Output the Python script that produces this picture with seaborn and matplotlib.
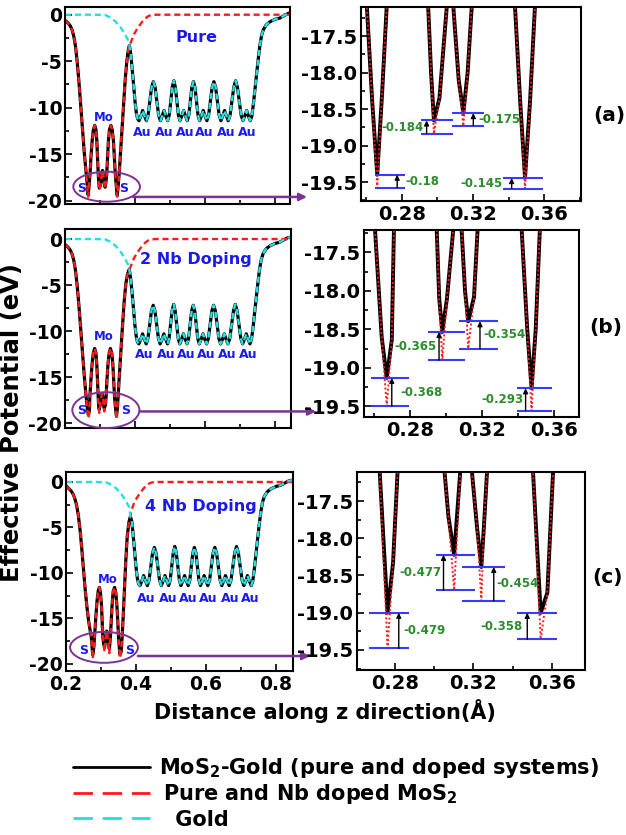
import matplotlib
matplotlib.use("Agg")
import matplotlib.pyplot as plt
import matplotlib.transforms as mtransforms
from matplotlib.patches import Ellipse
from matplotlib.lines import Line2D
from matplotlib.ticker import MultipleLocator, FormatStrFormatter
import pandas as pd
import seaborn as sns

sns.set_theme(style="ticks")
plt.rcParams["font.family"] = ["DejaVu Sans"]
plt.rcParams["font.weight"] = "bold"
plt.rcParams["mathtext.default"] = "bf"
plt.rcParams["axes.unicode_minus"] = False
for key in ["axes.edgecolor", "text.color", "axes.labelcolor", "xtick.color", "ytick.color"]:
    plt.rcParams[key] = "black"

# ---------------- data: effective potential along z ----------------
panel_names = ["Pure", "2 Nb Doping", "4 Nb Doping"]
panel_tags = ["(a)", "(b)", "(c)"]

# MoS2 region (S-Mo-S), one grid per system
mos2_z = [
    [0.200, 0.205, 0.210, 0.215, 0.220, 0.225, 0.230, 0.235, 0.240, 0.245, 0.250, 0.255,
     0.2605, 0.2635, 0.2663, 0.2690, 0.2716, 0.2740, 0.2775, 0.2810, 0.2850, 0.2885, 0.2910,
     0.2930, 0.2949, 0.2965, 0.2981, 0.3012, 0.3053, 0.3072, 0.3090, 0.3120, 0.3146, 0.3170,
     0.3193, 0.3215, 0.3240, 0.3270, 0.3310, 0.3350, 0.3385, 0.3410, 0.3436, 0.3465, 0.3492,
     0.3520, 0.3548, 0.3580, 0.3620, 0.3670, 0.3720, 0.3770, 0.3810, 0.3840],
    [0.200, 0.205, 0.210, 0.215, 0.220, 0.225, 0.230, 0.235, 0.240, 0.245, 0.250, 0.255,
     0.2606, 0.2643, 0.2671, 0.2699, 0.2711, 0.2740, 0.2775, 0.2810, 0.2850, 0.2885, 0.2910,
     0.2930, 0.2948, 0.2962, 0.2979, 0.3005, 0.3040, 0.3062, 0.3086, 0.3105, 0.3123, 0.3155,
     0.3175, 0.3200, 0.3230, 0.3265, 0.3300, 0.3340, 0.3370, 0.3395, 0.3419, 0.3450, 0.3474,
     0.3497, 0.3520, 0.3550, 0.3590, 0.3640, 0.3690, 0.3740, 0.3790, 0.3840],
    [0.200, 0.205, 0.210, 0.215, 0.220, 0.225, 0.230, 0.235, 0.240, 0.245, 0.250, 0.255,
     0.260, 0.265, 0.2724, 0.2764, 0.2792, 0.2815, 0.2850, 0.2890, 0.2925, 0.2955, 0.2985,
     0.3015, 0.3035, 0.3053, 0.3073, 0.3102, 0.3133, 0.3165, 0.3192, 0.3218, 0.3240, 0.3252,
     0.3269, 0.3295, 0.3320, 0.3350, 0.3390, 0.3425, 0.3455, 0.3480, 0.3502, 0.3541, 0.3575,
     0.3604, 0.3635, 0.3670, 0.3710, 0.3750, 0.3800, 0.3840],
]
# MoS2-Gold total potential in the MoS2 region
total_v = [
    [-0.6, -0.75, -0.95, -1.2, -1.6, -2.3, -3.4, -5.1, -7.3, -9.8, -12.4, -14.8,
     -17.1, -18.4, -19.40, -18.3, -17.1, -15.4, -13.6, -12.4, -11.9, -12.4, -13.6,
     -15.4, -17.1, -18.0, -18.656, -18.35, -17.1, -16.75, -17.1, -18.1, -18.555, -18.0,
     -17.1, -15.4, -13.6, -12.4, -11.9, -12.4, -13.6, -15.4, -17.1, -18.4, -19.445,
     -18.4, -17.1, -15.2, -12.8, -9.8, -7.0, -4.9, -3.8, -3.3],
    [-0.6, -0.75, -0.95, -1.2, -1.6, -2.3, -3.4, -5.1, -7.3, -9.8, -12.4, -14.8,
     -17.2, -18.6, -19.132, -18.64, -17.2, -15.4, -13.6, -12.4, -11.9, -12.4, -13.6,
     -15.4, -17.2, -18.1, -18.535, -18.1, -17.2, -16.8, -17.2, -18.0, -18.396, -18.08,
     -17.2, -15.4, -13.6, -12.4, -11.9, -12.4, -13.6, -15.4, -17.2, -18.5, -19.267,
     -18.5, -17.2, -15.2, -12.8, -9.8, -7.0, -4.9, -3.8, -3.3],
    [-0.4, -0.6, -0.8, -1.0, -1.3, -1.8, -2.5, -3.6, -5.2, -7.3, -9.6, -11.9,
     -13.8, -15.4, -17.1, -19.001, -18.33, -17.1, -15.0, -13.0, -11.9, -11.6, -12.2,
     -13.6, -15.3, -17.1, -17.71, -18.223, -17.1, -16.4, -17.1, -17.85, -18.386, -17.89,
     -17.1, -15.3, -13.4, -12.0, -11.6, -12.2, -13.6, -15.3, -17.1, -19.002, -18.73,
     -17.1, -14.8, -11.8, -8.6, -6.0, -4.4, -3.8],
]
# isolated (pure / Nb doped) MoS2 potential in the MoS2 region
mos2_v = [
    [-0.6, -0.75, -0.95, -1.2, -1.6, -2.3, -3.4, -5.1, -7.3, -9.8, -12.4, -14.8,
     -17.1, -18.4, -19.58, -18.3, -17.1, -15.4, -13.6, -12.4, -11.9, -12.4, -13.6,
     -15.4, -17.1, -18.0, -18.84, -18.35, -17.1, -16.75, -17.1, -18.1, -18.73, -18.0,
     -17.1, -15.4, -13.6, -12.4, -11.9, -12.4, -13.6, -15.4, -17.1, -18.4, -19.59,
     -18.4, -17.1, -15.2, -12.8, -9.8, -7.0, -4.9, -3.8, -3.3],
    [-0.6, -0.75, -0.95, -1.2, -1.6, -2.3, -3.4, -5.1, -7.3, -9.8, -12.4, -14.8,
     -17.2, -18.6, -19.50, -18.64, -17.2, -15.4, -13.6, -12.4, -11.9, -12.4, -13.6,
     -15.4, -17.2, -18.1, -18.90, -18.1, -17.2, -16.8, -17.2, -18.0, -18.75, -18.08,
     -17.2, -15.4, -13.6, -12.4, -11.9, -12.4, -13.6, -15.4, -17.2, -18.5, -19.56,
     -18.5, -17.2, -15.2, -12.8, -9.8, -7.0, -4.9, -3.8, -3.3],
    [-0.4, -0.6, -0.8, -1.0, -1.3, -1.8, -2.5, -3.6, -5.2, -7.3, -9.6, -11.9,
     -13.8, -15.4, -17.1, -19.48, -18.33, -17.1, -15.0, -13.0, -11.9, -11.6, -12.2,
     -13.6, -15.3, -17.1, -17.71, -18.70, -17.1, -16.4, -17.1, -17.85, -18.84, -17.89,
     -17.1, -15.3, -13.4, -12.0, -11.6, -12.2, -13.6, -15.3, -17.1, -19.36, -18.73,
     -17.1, -14.8, -11.8, -8.6, -6.0, -4.4, -3.8],
]

# gold slab region (six Au layers), common to all systems
au_z = [0.388, 0.392, 0.396, 0.400, 0.404, 0.4075, 0.4115, 0.41675, 0.422, 0.42725, 0.4325,
        0.4375, 0.4425, 0.4475, 0.4525, 0.4575, 0.4625, 0.4675, 0.4725, 0.47775, 0.483,
        0.48825, 0.4935, 0.4979, 0.5023, 0.5066, 0.511, 0.5154, 0.5198, 0.5241, 0.5285,
        0.53375, 0.539, 0.54425, 0.5495, 0.5539, 0.5583, 0.5626, 0.567, 0.5714, 0.5758,
        0.5801, 0.5845, 0.58975, 0.595, 0.60025, 0.6055, 0.6105, 0.6155, 0.6205, 0.6255,
        0.6305, 0.6355, 0.6405, 0.6455, 0.65075, 0.656, 0.66125, 0.6665, 0.6718, 0.677,
        0.6823, 0.6875, 0.6928, 0.698, 0.7033, 0.7085, 0.71375, 0.719, 0.72425, 0.7295,
        0.734, 0.739, 0.744, 0.748, 0.752, 0.757, 0.762, 0.767, 0.775, 0.786, 0.800,
        0.814, 0.826, 0.838, 0.849]
au_v = [-4.3, -5.8, -7.6, -9.3, -10.6, -11.2, -11.4, -10.9, -10.3, -10.9, -11.4,
        -10.8, -9.3, -7.8, -7.2, -7.8, -9.3, -10.8, -11.4, -10.9, -10.3,
        -10.9, -11.4, -10.8, -9.3, -7.8, -7.1, -7.8, -9.3, -10.8, -11.4,
        -10.9, -10.3, -10.9, -11.4, -10.8, -9.3, -7.8, -7.2, -7.8, -9.3,
        -10.8, -11.4, -10.9, -10.3, -10.9, -11.4, -10.8, -9.3, -7.8, -7.2,
        -7.8, -9.3, -10.8, -11.4, -10.9, -10.3, -10.9, -11.4, -10.8, -9.3,
        -7.8, -7.1, -7.8, -9.3, -10.8, -11.4, -10.9, -10.3, -10.9, -11.4,
        -10.9, -9.4, -7.6, -6.2, -4.85, -3.3, -2.2, -1.6, -1.1, -0.75, -0.5,
        -0.35, -0.1, 0.15, 0.2]

# isolated MoS2 potential beyond the junction
mos2_tail_z = [0.388, 0.393, 0.398, 0.405, 0.412, 0.420, 0.428, 0.436, 0.445, 0.460, 0.849]
mos2_tail_v = [-3.0, -2.5, -2.05, -1.6, -1.2, -0.8, -0.45, -0.2, -0.05, 0.0, 0.0]

# isolated gold potential before the junction
gold_head_z = [0.200, 0.280, 0.314, 0.330, 0.345, 0.357, 0.370, 0.381]
gold_head_v = [0.0, 0.0, -0.02, -0.3, -0.75, -1.26, -2.0, -2.8]

# band offsets between MoS2-Gold and isolated MoS2 at the four S/Mo minima
offset_labels = [[-0.18, -0.184, -0.175, -0.145],
                 [-0.368, -0.365, -0.354, -0.293],
                 [-0.479, -0.477, -0.454, -0.358]]
isolated_min = [[-19.58, -18.84, -18.73, -19.59],
                [-19.50, -18.90, -18.75, -19.56],
                [-19.48, -18.70, -18.84, -19.36]]
level_spans = [[(0.2650, 0.2819), (0.2907, 0.3090), (0.3081, 0.3264), (0.3370, 0.3595)],
               [(0.2584, 0.2794), (0.2898, 0.3105), (0.3073, 0.3289), (0.3391, 0.3585)],
               [(0.2670, 0.2873), (0.3009, 0.3209), (0.3141, 0.3359), (0.3422, 0.3623)]]
shift_arrow_z = [[0.2775, 0.2940, 0.3202, 0.3417],
                 [0.2699, 0.2961, 0.3188, 0.3441],
                 [0.2821, 0.3048, 0.3303, 0.3473]]
offset_text_z = [[0.2822, 0.2921, 0.3230, 0.3368],
                 [0.2748, 0.2946, 0.3206, 0.3428],
                 [0.2844, 0.3039, 0.3314, 0.3450]]
offset_text_ha = ["left", "right", "left", "right"]

# atom labels in the overview panels
title_pos = [(0.576, -2.4), (0.576, -2.2), (0.585, -2.75)]
mo_pos = [(0.311, -11.1), (0.311, -10.6), (0.3186, -10.7)]
s_pos = [((0.2476, 0.3686), -18.67), ((0.2469, 0.3734), -18.63), ((0.2514, 0.3829), -18.5)]
au_label_z = [[0.4209, 0.4829, 0.5429, 0.598, 0.6619, 0.7209],
              [0.4277, 0.4899, 0.5471, 0.6042, 0.6657, 0.7237],
              [0.4305, 0.4923, 0.5494, 0.6066, 0.6686, 0.7257]]
au_label_v = [-12.67, -12.58, -12.8]

# highlighted S-Mo-S region and zoom arrow
ellipse_center = [(0.319, -18.5), (0.317, -18.6), (0.3086, -18.2)]
ellipse_size = [(0.1905, 3.23), (0.192, 3.9), (0.194, 3.4)]
zoom_start = [(0.395, -19.6), (0.4134, -18.74), (0.4057, -19.15)]
zoom_end_px = [307, 316, 310]

# legend entries
legend_labels = ["MoS$_2$-Gold (pure and doped systems)",
                 "Pure and Nb doped MoS$_2$",
                 " Gold"]

# ---------------- layout (pixel boxes: x0, y0, x1, y1) ----------------
W, H = 626, 835
left_boxes = [(65, 7, 290, 204), (65, 229, 291, 428), (66, 472, 293, 671)]
right_boxes = [(361, 7, 581, 201), (364, 230, 579, 417), (357, 472, 585, 670)]
left_ylim = [(-20.36, 0.83), (-20.54, 1.09), (-20.8, 1.1)]
left_xlim = [(0.2, 0.843), (0.2, 0.847), (0.2, 0.849)]
right_xlim = [(0.2572, 0.3806), (0.2545, 0.3737), (0.2609, 0.3766)]
right_ylim = [(-19.76, -17.10), (-19.64, -17.21), (-19.77, -17.11)]
tag_px = [(609, 115), (606, 328), (607, 578)]
legend_rows_px = [767, 793, 818]
legend_text_x_px = [159, 163, 168]

BLACK, RED, CYAN = "black", "#ff1a1a", "#22e0e0"
TXT_BLUE, GREEN, PURPLE, LEVEL_BLUE = "#1a1aee", "#2a8c2a", "#7b3294", "#3a3aff"

fig = plt.figure(figsize=(W / 100, H / 100), dpi=100)


def add_axes_px(box):
    x0, y0, x1, y1 = box
    return fig.add_axes([x0 / W, 1 - y1 / H, (x1 - x0) / W, (y1 - y0) / H])


def style_axes(ax, size=14, ypad=3):
    for sp in ax.spines.values():
        sp.set_linewidth(1.5)
        sp.set_color("black")
    ax.tick_params(which="both", direction="in", top=False, right=False,
                   labelsize=size, width=1.2, pad=3, colors="black")
    ax.tick_params(axis="y", pad=ypad)
    ax.tick_params(which="major", length=5)
    ax.tick_params(which="minor", length=3)
    ax.set_xlabel("")
    ax.set_ylabel("")


def line(ax, z, v, **kw):
    df = pd.DataFrame({"z": z, "V": v})
    sns.lineplot(data=df, x="z", y="V", ax=ax, sort=False, estimator=None, **kw)


dash = (0, (2.6, 1.6))
for i in range(3):
    tot_z = mos2_z[i] + au_z
    tot_v = total_v[i] + au_v
    iso_z = mos2_z[i] + mos2_tail_z
    iso_v = mos2_v[i] + mos2_tail_v
    gold_z = gold_head_z + [mos2_z[i][-1]] + au_z
    gold_v = gold_head_v + [total_v[i][-1]] + au_v

    # ---- overview panel ----
    axL = add_axes_px(left_boxes[i])
    line(axL, tot_z, tot_v, color=BLACK, lw=2.3)
    line(axL, iso_z, iso_v, color=RED, lw=1.7, linestyle=dash)
    line(axL, gold_z, gold_v, color=CYAN, lw=1.7, linestyle=dash)
    axL.set_xlim(*left_xlim[i])
    axL.set_ylim(*left_ylim[i])
    axL.xaxis.set_major_locator(MultipleLocator(0.2))
    axL.xaxis.set_minor_locator(MultipleLocator(0.1))
    axL.yaxis.set_major_locator(MultipleLocator(5))
    axL.yaxis.set_minor_locator(MultipleLocator(2.5))
    axL.yaxis.set_major_formatter(FormatStrFormatter("%d"))
    axL.xaxis.set_major_formatter(FormatStrFormatter("%.1f"))
    style_axes(axL, 13.5, ypad=2)
    if i < 2:
        axL.tick_params(axis="x", labelbottom=False)

    axL.text(*title_pos[i], panel_names[i], color=TXT_BLUE, fontsize=11.5,
             ha="center", va="center", fontweight="bold")
    axL.text(*mo_pos[i], "Mo", color=TXT_BLUE, fontsize=8.5, ha="center", va="center")
    for sz in s_pos[i][0]:
        axL.text(sz, s_pos[i][1], "S", color=TXT_BLUE, fontsize=9, ha="center", va="center")
    for az in au_label_z[i]:
        axL.text(az, au_label_v[i], "Au", color=TXT_BLUE, fontsize=9, ha="center", va="center")
    axL.add_patch(Ellipse(ellipse_center[i], *ellipse_size[i], fill=False,
                          edgecolor=PURPLE, lw=1.4, clip_on=False, zorder=5))
    trans = mtransforms.blended_transform_factory(fig.transFigure, axL.transData)
    axL.annotate("", xy=(zoom_end_px[i] / W, zoom_start[i][1]), xycoords=trans,
                 xytext=zoom_start[i], textcoords="data", annotation_clip=False,
                 arrowprops=dict(arrowstyle="-|>", color=PURPLE, lw=1.8,
                                 mutation_scale=11, shrinkA=0, shrinkB=0))

    # ---- zoom on the S-Mo-S minima ----
    axR = add_axes_px(right_boxes[i])
    line(axR, tot_z, tot_v, color=BLACK, lw=2.8)
    line(axR, iso_z, iso_v, color=RED, lw=1.4, linestyle=(0, (1, 1.2)))
    axR.set_xlim(*right_xlim[i])
    axR.set_ylim(*right_ylim[i])
    axR.xaxis.set_major_locator(MultipleLocator(0.04))
    axR.xaxis.set_minor_locator(MultipleLocator(0.02))
    axR.yaxis.set_major_locator(MultipleLocator(0.5))
    axR.yaxis.set_minor_locator(MultipleLocator(0.25))
    axR.xaxis.set_major_formatter(FormatStrFormatter("%.2f"))
    axR.yaxis.set_major_formatter(FormatStrFormatter("%.1f"))
    style_axes(axR, 14)

    for k in range(4):
        low = isolated_min[i][k]
        high = low - offset_labels[i][k]
        x0, x1 = level_spans[i][k]
        axR.hlines([high, low], x0, x1, color=LEVEL_BLUE, lw=1.5, zorder=6)
        axR.annotate("", xy=(shift_arrow_z[i][k], high), xytext=(shift_arrow_z[i][k], low),
                     arrowprops=dict(arrowstyle="-|>", color="black", lw=1.0,
                                     mutation_scale=7, shrinkA=0, shrinkB=0), zorder=7)
        axR.text(offset_text_z[i][k], (high + low) / 2, f"{offset_labels[i][k]:g}",
                 color=GREEN, fontsize=8.5, ha=offset_text_ha[k], va="center", zorder=8)

    fig.text(tag_px[i][0] / W, 1 - tag_px[i][1] / H, panel_tags[i], fontsize=14.5,
             ha="center", va="center")

fig.text(12 / W, 1 - 422 / H, "Effective Potential (eV)", rotation=90,
         fontsize=17.5, ha="center", va="center")
fig.text(325 / W, 1 - 711 / H, "Distance along z direction(Å)",
         fontsize=15, ha="center", va="center")

# legend drawn row by row in figure pixels
legend_styles = [dict(color=BLACK, lw=2.0),
                 dict(color=RED, lw=2.0, linestyle=(0, (7, 3.5))),
                 dict(color=CYAN, lw=2.0, linestyle=(0, (7, 3.5)))]
for y_px, tx_px, lab, st in zip(legend_rows_px, legend_text_x_px, legend_labels, legend_styles):
    yf = 1 - y_px / H
    fig.add_artist(Line2D([73 / W, 150 / W], [yf, yf], transform=fig.transFigure, **st))
    fig.text(tx_px / W, 1 - (y_px + 7.5) / H, lab, fontsize=15, ha="left", va="baseline")

fig.savefig("out.png", dpi=100)
